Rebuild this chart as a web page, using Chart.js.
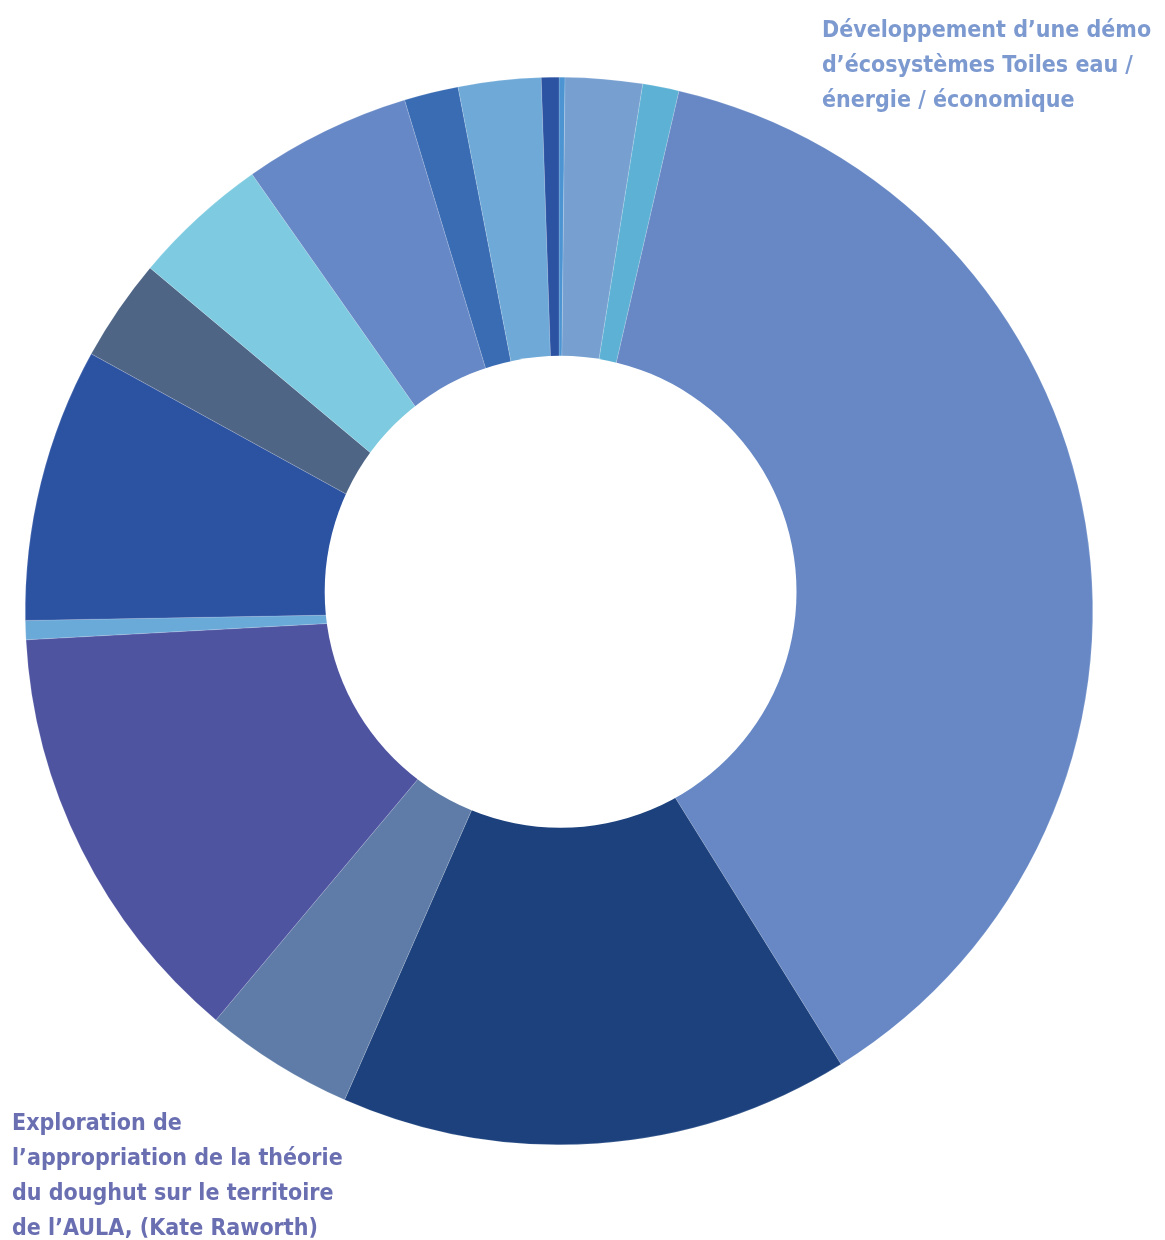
<!DOCTYPE html>
<html lang="fr">
<head>
<meta charset="utf-8">
<title>Répartition</title>
<script src="https://cdn.jsdelivr.net/npm/chart.js@4.4.1/dist/chart.umd.min.js"></script>
<style>
  html, body { margin: 0; padding: 0; background: #fff; }
  #wrap { position: relative; width: 1165px; height: 1240px; overflow: hidden; }
  #chart { position: absolute; left: 0; top: 0; }
  .note {
    position: absolute;
    font-family: "DejaVu Sans Condensed", "DejaVu Sans", sans-serif;
    font-stretch: condensed;
    font-weight: bold;
    font-size: 23px;
    line-height: 35px;
    white-space: nowrap;
  }
  #noteTop    { left: 822px; top: 12px;   color: #7d9ad0; }
  #noteBottom { left: 12px;  top: 1105px; color: #6a6fb2; }
</style>
</head>
<body>
<div id="wrap">
  <canvas id="chart" width="1165" height="1240"></canvas>
  <div class="note" id="noteTop"></div>
  <div class="note" id="noteBottom"></div>
</div>
<script>
// Parts (%), dans le sens horaire depuis midi
const categories = [
  'Poste 1',
  'Développement d’une démo d’écosystèmes Toiles eau / énergie / économique',
  'Poste 3', 'Poste 4', 'Poste 5', 'Poste 6',
  'Exploration de l’appropriation de la théorie du doughut sur le territoire de l’AULA, (Kate Raworth)',
  'Poste 8', 'Poste 9', 'Poste 10', 'Poste 11', 'Poste 12', 'Poste 13', 'Poste 14', 'Poste 15'
];
const shares = [0.18, 2.33, 1.10, 37.53, 15.44, 4.53, 13.03, 0.58, 8.28, 3.11, 4.14, 5.08, 1.64, 2.50, 0.53];
const sliceColors = [
  '#4d94d2', '#77a0d1', '#5cb1d4', '#6788c5', '#1c417d', '#5e7ca7', '#4f54a1', '#6aaad9',
  '#2c52a2', '#4f6586', '#7ecbe1', '#6788c6', '#3a6cb4', '#6ea9d7', '#2c52a2'
];
// Annotations (lignes telles que coupées sur l'image)
const noteTopLines = ['Développement d’une démo', 'd’écosystèmes Toiles eau /', 'énergie / économique'];
const noteBottomLines = ['Exploration de', 'l’appropriation de la théorie', 'du doughut sur le territoire', 'de l’AULA, (Kate Raworth)'];

document.getElementById('noteTop').innerHTML = noteTopLines.join('<br>');
document.getElementById('noteBottom').innerHTML = noteBottomLines.join('<br>');

// Le trou blanc est légèrement décentré vers le haut sur l'original
const hole = {
  id: 'hole',
  afterDatasetsDraw(chart) {
    const arc = chart.getDatasetMeta(0).data[0];
    if (!arc) return;
    const R = arc.outerRadius;
    const ctx = chart.ctx;
    ctx.save();
    ctx.fillStyle = '#ffffff';
    ctx.beginPath();
    ctx.arc(arc.x + 0.003 * R, arc.y - 0.036 * R, 0.442 * R, 0, Math.PI * 2);
    ctx.fill();
    ctx.restore();
  }
};

new Chart(document.getElementById('chart').getContext('2d'), {
  type: 'doughnut',
  data: {
    labels: categories,
    datasets: [{
      data: shares,
      backgroundColor: sliceColors,
      borderColor: 'rgba(255,255,255,0.3)',
      borderWidth: 0.5
    }]
  },
  options: {
    responsive: false,
    animation: false,
    cutout: '40%',
    layout: { padding: { left: 25, right: 72, top: 77, bottom: 95 } },
    plugins: {
      legend: { display: false },
      tooltip: { enabled: false }
    }
  },
  plugins: [hole]
});
</script>
</body>
</html>
